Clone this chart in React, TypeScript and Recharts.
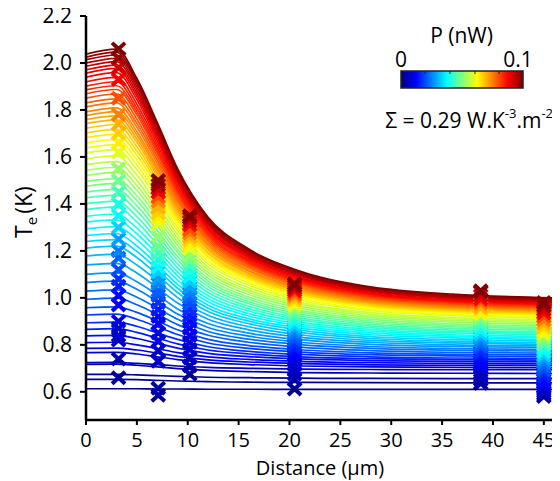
import React from 'react';
import { ComposedChart, Line, Scatter, XAxis, YAxis } from 'recharts';

// Distance positions (µm) at which each simulated curve is sampled
const X_POS = [0, 3, 5, 7, 9, 12, 16, 21, 28, 36, 46];

// Simulated Te (K) profiles, from highest power (top) to lowest power (bottom)
const CURVE_VALUES: number[][] = [
  [2.038, 2.059, 1.934, 1.747, 1.550, 1.343, 1.208, 1.114, 1.047, 1.016, 1.000],
  [2.025, 2.046, 1.922, 1.737, 1.542, 1.336, 1.203, 1.110, 1.043, 1.012, 0.997],
  [2.014, 2.034, 1.912, 1.728, 1.535, 1.331, 1.198, 1.106, 1.040, 1.009, 0.994],
  [2.000, 2.020, 1.899, 1.717, 1.525, 1.323, 1.192, 1.101, 1.035, 1.005, 0.990],
  [1.986, 2.006, 1.886, 1.706, 1.516, 1.317, 1.187, 1.097, 1.032, 1.002, 0.987],
  [1.971, 1.991, 1.872, 1.695, 1.507, 1.310, 1.181, 1.093, 1.028, 0.999, 0.984],
  [1.957, 1.977, 1.859, 1.683, 1.498, 1.302, 1.175, 1.087, 1.024, 0.995, 0.980],
  [1.940, 1.959, 1.844, 1.670, 1.487, 1.294, 1.169, 1.082, 1.019, 0.990, 0.976],
  [1.920, 1.939, 1.825, 1.655, 1.475, 1.286, 1.162, 1.077, 1.016, 0.987, 0.973],
  [1.901, 1.920, 1.808, 1.640, 1.463, 1.277, 1.156, 1.072, 1.012, 0.984, 0.970],
  [1.885, 1.903, 1.793, 1.628, 1.454, 1.270, 1.151, 1.068, 1.008, 0.981, 0.967],
  [1.869, 1.887, 1.779, 1.616, 1.444, 1.263, 1.145, 1.064, 1.005, 0.978, 0.964],
  [1.850, 1.868, 1.761, 1.601, 1.432, 1.254, 1.139, 1.059, 1.001, 0.974, 0.961],
  [1.830, 1.847, 1.743, 1.586, 1.420, 1.246, 1.132, 1.054, 0.997, 0.971, 0.958],
  [1.813, 1.830, 1.727, 1.572, 1.409, 1.237, 1.126, 1.048, 0.993, 0.967, 0.954],
  [1.792, 1.809, 1.708, 1.556, 1.396, 1.228, 1.118, 1.043, 0.988, 0.963, 0.950],
  [1.776, 1.793, 1.693, 1.544, 1.386, 1.221, 1.113, 1.038, 0.984, 0.959, 0.947],
  [1.759, 1.775, 1.677, 1.531, 1.375, 1.212, 1.106, 1.033, 0.980, 0.955, 0.943],
  [1.742, 1.758, 1.662, 1.517, 1.365, 1.205, 1.100, 1.028, 0.976, 0.952, 0.940],
  [1.722, 1.738, 1.643, 1.502, 1.353, 1.195, 1.093, 1.022, 0.971, 0.948, 0.936],
  [1.702, 1.717, 1.625, 1.487, 1.341, 1.187, 1.087, 1.018, 0.968, 0.945, 0.933],
  [1.682, 1.697, 1.607, 1.471, 1.328, 1.177, 1.080, 1.012, 0.963, 0.940, 0.929],
  [1.660, 1.675, 1.587, 1.454, 1.315, 1.168, 1.072, 1.006, 0.958, 0.936, 0.925],
  [1.638, 1.652, 1.566, 1.437, 1.300, 1.156, 1.063, 0.998, 0.951, 0.930, 0.919],
  [1.617, 1.631, 1.547, 1.420, 1.286, 1.145, 1.054, 0.990, 0.945, 0.924, 0.913],
  [1.591, 1.605, 1.523, 1.399, 1.269, 1.132, 1.043, 0.981, 0.937, 0.916, 0.906],
  [1.567, 1.580, 1.500, 1.380, 1.254, 1.120, 1.033, 0.973, 0.930, 0.910, 0.900],
  [1.543, 1.556, 1.478, 1.361, 1.238, 1.108, 1.024, 0.965, 0.923, 0.904, 0.894],
  [1.521, 1.534, 1.458, 1.343, 1.223, 1.096, 1.014, 0.957, 0.916, 0.897, 0.887],
  [1.496, 1.508, 1.434, 1.324, 1.206, 1.083, 1.003, 0.948, 0.908, 0.889, 0.880],
  [1.475, 1.487, 1.415, 1.307, 1.193, 1.072, 0.994, 0.940, 0.901, 0.883, 0.874],
  [1.450, 1.462, 1.392, 1.287, 1.176, 1.060, 0.984, 0.932, 0.894, 0.877, 0.868],
  [1.426, 1.437, 1.370, 1.268, 1.161, 1.048, 0.975, 0.924, 0.887, 0.870, 0.862],
  [1.401, 1.412, 1.346, 1.248, 1.144, 1.035, 0.964, 0.915, 0.880, 0.863, 0.855],
  [1.376, 1.387, 1.323, 1.228, 1.128, 1.023, 0.954, 0.907, 0.873, 0.857, 0.849],
  [1.347, 1.357, 1.297, 1.206, 1.110, 1.009, 0.944, 0.898, 0.866, 0.851, 0.843],
  [1.322, 1.332, 1.273, 1.186, 1.094, 0.996, 0.933, 0.889, 0.858, 0.843, 0.836],
  [1.294, 1.303, 1.248, 1.164, 1.076, 0.983, 0.923, 0.881, 0.851, 0.837, 0.830],
  [1.265, 1.274, 1.221, 1.141, 1.057, 0.969, 0.911, 0.872, 0.843, 0.830, 0.823],
  [1.240, 1.248, 1.198, 1.121, 1.041, 0.956, 0.901, 0.863, 0.835, 0.822, 0.816],
  [1.212, 1.220, 1.172, 1.099, 1.023, 0.942, 0.890, 0.853, 0.827, 0.815, 0.809],
  [1.178, 1.186, 1.140, 1.073, 1.001, 0.926, 0.877, 0.843, 0.819, 0.808, 0.802],
  [1.140, 1.147, 1.106, 1.043, 0.978, 0.909, 0.864, 0.833, 0.811, 0.800, 0.795],
  [1.100, 1.106, 1.069, 1.013, 0.953, 0.891, 0.850, 0.822, 0.802, 0.793, 0.788],
  [1.065, 1.071, 1.037, 0.985, 0.931, 0.874, 0.837, 0.811, 0.793, 0.784, 0.780],
  [1.029, 1.034, 1.003, 0.957, 0.909, 0.857, 0.824, 0.801, 0.785, 0.777, 0.773],
  [0.994, 0.999, 0.971, 0.930, 0.886, 0.841, 0.811, 0.790, 0.775, 0.768, 0.765],
  [0.958, 0.962, 0.938, 0.902, 0.864, 0.823, 0.797, 0.779, 0.766, 0.760, 0.757],
  [0.927, 0.931, 0.909, 0.877, 0.844, 0.808, 0.785, 0.769, 0.758, 0.753, 0.750],
  [0.894, 0.897, 0.879, 0.851, 0.823, 0.792, 0.772, 0.759, 0.749, 0.744, 0.742],
  [0.866, 0.869, 0.853, 0.829, 0.804, 0.778, 0.761, 0.749, 0.741, 0.737, 0.735],
  [0.838, 0.840, 0.827, 0.807, 0.786, 0.764, 0.750, 0.740, 0.733, 0.730, 0.728],
  [0.809, 0.811, 0.800, 0.784, 0.767, 0.749, 0.738, 0.730, 0.724, 0.721, 0.720],
  [0.785, 0.786, 0.778, 0.765, 0.751, 0.736, 0.727, 0.720, 0.715, 0.713, 0.712],
  [0.767, 0.768, 0.761, 0.749, 0.737, 0.724, 0.716, 0.710, 0.706, 0.704, 0.703],
  [0.724, 0.725, 0.721, 0.716, 0.710, 0.704, 0.700, 0.697, 0.695, 0.694, 0.694],
  [0.717, 0.718, 0.713, 0.706, 0.699, 0.691, 0.686, 0.682, 0.680, 0.679, 0.678],
  [0.674, 0.674, 0.672, 0.669, 0.666, 0.662, 0.660, 0.658, 0.657, 0.656, 0.656],
  [0.653, 0.653, 0.652, 0.649, 0.646, 0.643, 0.641, 0.640, 0.639, 0.638, 0.638],
  [0.613, 0.613, 0.613, 0.612, 0.612, 0.611, 0.611, 0.610, 0.610, 0.610, 0.610],
];

const MAX_POWER = 0.1; // nW, top of the colour scale

// Measured points: x positions (µm)
const MARKER_X = [3.2, 7.1, 10.2, 20.5, 38.8, 45.0];
// Power of each measurement (nW), highest first
const MARKER_POWER = [0.100, 0.097, 0.092, 0.088, 0.080, 0.075, 0.070, 0.067, 0.064, 0.060, 0.052, 0.048, 0.044, 0.040, 0.037, 0.033, 0.028, 0.025, 0.022, 0.020, 0.017, 0.015, 0.013, 0.012, 0.010, 0.008, 0.007, 0.006, 0.004, 0.002];
const MARKERS_AT_3 = [2.06, 2.02, 1.98, 1.93, 1.85, 1.78, 1.74, 1.70, 1.66, 1.62, 1.55, 1.50, 1.45, 1.40, 1.35, 1.30, 1.25, 1.20, 1.17, 1.12, 1.08, 1.05, 1.01, 0.97, 0.90, 0.87, 0.84, 0.82, 0.74, 0.66];
const MARKERS_AT_7 = [1.50, 1.48, 1.465, 1.45, 1.43, 1.41, 1.385, 1.36, 1.34, 1.315, 1.26, 1.22, 1.19, 1.16, 1.13, 1.11, 1.08, 1.06, 1.03, 1.01, 0.98, 0.95, 0.92, 0.89, 0.85, 0.815, 0.775, 0.73, 0.615, 0.585];
const MARKERS_AT_10 = [1.35, 1.34, 1.325, 1.31, 1.29, 1.275, 1.26, 1.245, 1.23, 1.21, 1.18, 1.16, 1.14, 1.115, 1.09, 1.07, 1.045, 1.02, 1.00, 0.975, 0.95, 0.925, 0.90, 0.87, 0.84, 0.81, 0.78, 0.745, 0.71, 0.675];
const MARKERS_AT_20 = [1.06, 1.05, 1.04, 1.03, 1.02, 1.01, 1.00, 0.99, 0.98, 0.97, 0.955, 0.94, 0.925, 0.91, 0.895, 0.88, 0.865, 0.85, 0.835, 0.82, 0.80, 0.785, 0.77, 0.755, 0.74, 0.72, 0.695, 0.675, 0.652, 0.612];
const MARKERS_AT_39 = [1.03, 1.025, 1.01, 0.995, 0.985, 0.975, 0.96, 0.955, 0.94, 0.93, 0.92, 0.905, 0.885, 0.875, 0.86, 0.845, 0.83, 0.815, 0.80, 0.79, 0.77, 0.76, 0.74, 0.725, 0.71, 0.70, 0.68, 0.665, 0.65, 0.635];
const MARKERS_AT_45 = [0.98, 0.965, 0.95, 0.935, 0.92, 0.905, 0.89, 0.875, 0.86, 0.845, 0.83, 0.815, 0.80, 0.785, 0.77, 0.755, 0.74, 0.725, 0.71, 0.695, 0.68, 0.665, 0.65, 0.64, 0.63, 0.62, 0.61, 0.60, 0.59, 0.58];
const MARKER_COLUMNS = [MARKERS_AT_3, MARKERS_AT_7, MARKERS_AT_10, MARKERS_AT_20, MARKERS_AT_39, MARKERS_AT_45];

const X_TICKS = [0, 5, 10, 15, 20, 25, 30, 35, 40, 45];
const Y_TICKS = [0.6, 0.8, 1.0, 1.2, 1.4, 1.6, 1.8, 2.0, 2.2];

const FONT = '"Open Sans", "Noto Sans", sans-serif';

function clamp01(v: number) {
  return Math.max(0, Math.min(1, v));
}
function jet(t: number) {
  const r = clamp01(1.5 - Math.abs(4 * t - 3));
  const g = clamp01(1.5 - Math.abs(4 * t - 2));
  const b = clamp01(1.5 - Math.abs(4 * t - 1));
  return `rgb(${Math.round(r * 255)},${Math.round(g * 255)},${Math.round(b * 255)})`;
}

const nCurves = CURVE_VALUES.length;
const curveSeries = CURVE_VALUES.map((row, i) => ({
  color: jet(1 - i / (nCurves - 1)),
  data: row.map((y, k) => ({ x: X_POS[k], y })),
})).reverse();

const markerPoints: { x: number; y: number; color: string }[] = [];
for (let j = MARKER_POWER.length - 1; j >= 0; j--) {
  MARKER_COLUMNS.forEach((col, k) => {
    markerPoints.push({ x: MARKER_X[k], y: col[j], color: jet(MARKER_POWER[j] / MAX_POWER) });
  });
}

const XMark = (props: any) => {
  const { cx, cy, payload } = props;
  if (cx == null || cy == null) return null;
  const a = 6.5;
  const b = 6;
  const c = (payload && payload.color) || props.fill;
  return (
    <path
      d={`M${cx - a},${cy - b}L${cx + a},${cy + b}M${cx - a},${cy + b}L${cx + a},${cy - b}`}
      stroke={c}
      strokeWidth={4}
      fill="none"
    />
  );
};

const YLabel = () => (
  <text
    x={0}
    y={0}
    transform="translate(32,212) rotate(-90)"
    textAnchor="middle"
    fontFamily={FONT}
    fontSize={23}
    fill="#000"
  >
    T
    <tspan fontSize={15} dy={5}>e</tspan>
    <tspan dy={-5} dx={3}>(K)</tspan>
  </text>
);

export default function App() {
  return (
    <div style={{ position: 'relative', width: 560, height: 481, marginTop: -8, marginLeft: -8 }}>
      <ComposedChart width={560} height={481} margin={{ top: 16, right: 5, bottom: 0, left: 0 }}>
        <XAxis
          xAxisId={0}
          type="number"
          dataKey="x"
          domain={[0, 46]}
          ticks={X_TICKS}
          interval={0}
          allowDataOverflow
          height={61}
          tickSize={5}
          tickMargin={8}
          axisLine={{ stroke: '#000', strokeWidth: 2.5 }}
          tickLine={{ stroke: '#000', strokeWidth: 2 }}
          tick={{ fill: '#000', fontSize: 20, fontFamily: FONT }}
          label={{ value: 'Distance (µm)', position: 'insideBottom', offset: 6, fill: '#000', fontSize: 20, fontFamily: FONT }}
        />
        <XAxis
          xAxisId="top"
          orientation="top"
          type="number"
          domain={[0, 46]}
          height={0}
          tick={false}
          tickLine={false}
          axisLine={{ stroke: '#000', strokeWidth: 2.5 }}
        />
        <YAxis
          yAxisId={0}
          type="number"
          dataKey="y"
          domain={[0.48, 2.2]}
          ticks={Y_TICKS}
          interval={0}
          allowDataOverflow
          width={86}
          tickSize={6}
          tickMargin={8}
          tickFormatter={(v: number) => v.toFixed(1)}
          axisLine={{ stroke: '#000', strokeWidth: 2.5 }}
          tickLine={{ stroke: '#000', strokeWidth: 2 }}
          tick={{ fill: '#000', fontSize: 21, fontFamily: FONT }}
          label={<YLabel />}
        />
        <YAxis
          yAxisId="right"
          orientation="right"
          type="number"
          domain={[0.48, 2.2]}
          width={1}
          tick={false}
          tickLine={false}
          axisLine={{ stroke: '#000', strokeWidth: 2.5 }}
        />
        {curveSeries.map((s, i) => (
          <Line
            key={`c${i}`}
            data={s.data}
            dataKey="y"
            type="monotone"
            stroke={s.color}
            strokeWidth={1.7}
            dot={false}
            activeDot={false}
            isAnimationActive={false}
          />
        ))}
        <Scatter data={markerPoints} dataKey="y" shape={XMark} isAnimationActive={false} />
      </ComposedChart>
      <svg
        width={560}
        height={481}
        style={{ position: 'absolute', left: 0, top: 0, pointerEvents: 'none' }}
      >
        <defs>
          <linearGradient id="jetbar" x1="0" y1="0" x2="1" y2="0">
            <stop offset="0" stopColor="#00007f" />
            <stop offset="0.125" stopColor="#0000ff" />
            <stop offset="0.375" stopColor="#00ffff" />
            <stop offset="0.625" stopColor="#ffff00" />
            <stop offset="0.875" stopColor="#ff0000" />
            <stop offset="1" stopColor="#7f0000" />
          </linearGradient>
        </defs>
        <text x={461.5} y={43} textAnchor="middle" fontFamily={FONT} fontSize={21} fill="#000">P (nW)</text>
        <text x={401} y={67} textAnchor="middle" fontFamily={FONT} fontSize={21} fill="#000">0</text>
        <text x={518} y={67} textAnchor="middle" fontFamily={FONT} fontSize={21} fill="#000">0.1</text>
        <rect x={401} y={71} width={122} height={17} fill="url(#jetbar)" stroke="#222" strokeWidth={1.5} />
        {[425, 450, 475, 499].map((tx) => (
          <line key={tx} x1={tx} y1={71} x2={tx} y2={74} stroke="#222" strokeWidth={1} />
        ))}
        <text x={553} y={128} textAnchor="end" fontFamily={FONT} fontSize={21} fill="#000">
          Σ = 0.29 W.K
          <tspan fontSize={13} dy={-10}>-3</tspan>
          <tspan dy={10}>.m</tspan>
          <tspan fontSize={13} dy={-10}>-2</tspan>
        </text>
      </svg>
    </div>
  );
}
